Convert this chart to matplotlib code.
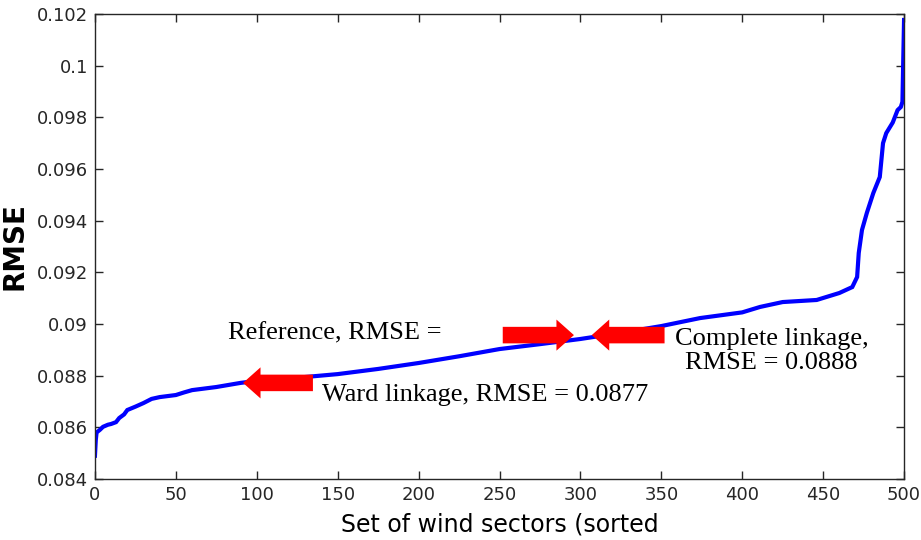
import matplotlib
matplotlib.use("Agg")
from matplotlib import pyplot as plt
import numpy as np

# sorted RMSE curve
sector = [0, 0.5, 1, 3, 5, 8, 10, 13, 15, 18, 20, 25, 30, 35, 40, 50, 55, 60, 75, 90,
          100, 125, 150, 175, 200, 225, 250, 275, 300, 325, 350, 374, 400, 411,
          425, 446, 460, 468, 471, 472, 474, 477, 481, 485, 487, 489, 493, 496,
          498, 499, 499.5, 500]
rmse = [0.0849, 0.0855, 0.0858, 0.0859, 0.08602, 0.0861, 0.08613, 0.0862, 0.08636, 0.0865,
        0.08667, 0.0868, 0.08694, 0.0871, 0.08717, 0.08725, 0.08735, 0.08744, 0.08756, 0.08772,
        0.0878, 0.08792, 0.08806, 0.08826, 0.08849, 0.08875, 0.08903, 0.08922, 0.08942,
        0.08966, 0.08992, 0.09023, 0.09045, 0.09066, 0.09085, 0.09093, 0.0912, 0.09143,
        0.09182, 0.09275, 0.09364, 0.0943, 0.09507, 0.09569, 0.097, 0.09739, 0.0978,
        0.09828, 0.0984, 0.0986, 0.1002, 0.10177]

xticks = np.arange(0, 501, 50)
yticks = [0.084, 0.086, 0.088, 0.09, 0.092, 0.094, 0.096, 0.098, 0.1, 0.102]
ytick_labels = ['0.084', '0.086', '0.088', '0.09', '0.092', '0.094', '0.096', '0.098', '0.1', '0.102']

# arrows: (tail x, tip x, y)
arrows = [(134.7, 91.5, 0.08772), (252, 296, 0.08957), (352, 307, 0.08957)]

fig = plt.figure(figsize=(9.21, 5.40), dpi=100)
ax = fig.add_axes([0.1031, 0.113, 0.8785, 0.861])
ax.plot(sector, rmse, color='#0000ff', linewidth=3, solid_joinstyle='miter')

ax.set_xlim(0, 500)
ax.set_ylim(0.084, 0.102)
ax.set_xticks(xticks)
ax.set_yticks(yticks)
ax.set_yticklabels(ytick_labels)
ax.tick_params(direction='in', top=True, right=True, length=6, width=1, colors='#262626',
               labelsize=13, pad=5)
for lab in ax.get_xticklabels() + ax.get_yticklabels():
    lab.set_fontfamily('DejaVu Sans')
for s in ax.spines.values():
    s.set_color('#262626')
    s.set_linewidth(1)

ax.set_ylabel('RMSE', fontsize=20, fontweight='bold', fontfamily='DejaVu Sans', labelpad=6)
ax.set_xlabel('Set of wind sectors (sorted', fontsize=17, fontfamily='DejaVu Sans', labelpad=6)

for tail, tip, y in arrows:
    ax.annotate('', xy=(tip, y), xytext=(tail, y),
                arrowprops=dict(arrowstyle='simple,head_length=0.9,head_width=1.6,tail_width=0.85',
                                color='#ff0000', lw=0, shrinkA=0, shrinkB=0,
                                mutation_scale=14))

serif = 'Liberation Serif'
ax.text(82, 0.08965, 'Reference, RMSE =', fontsize=19, fontfamily=serif, va='center')
ax.text(140, 0.08725, 'Ward linkage, RMSE = 0.0877', fontsize=19, fontfamily=serif, va='center')
ax.text(418, 0.08895, 'Complete linkage,\nRMSE = 0.0888', fontsize=19, fontfamily=serif,
        va='center', ha='center', linespacing=1.15)

fig.savefig('out.png', dpi=100)
